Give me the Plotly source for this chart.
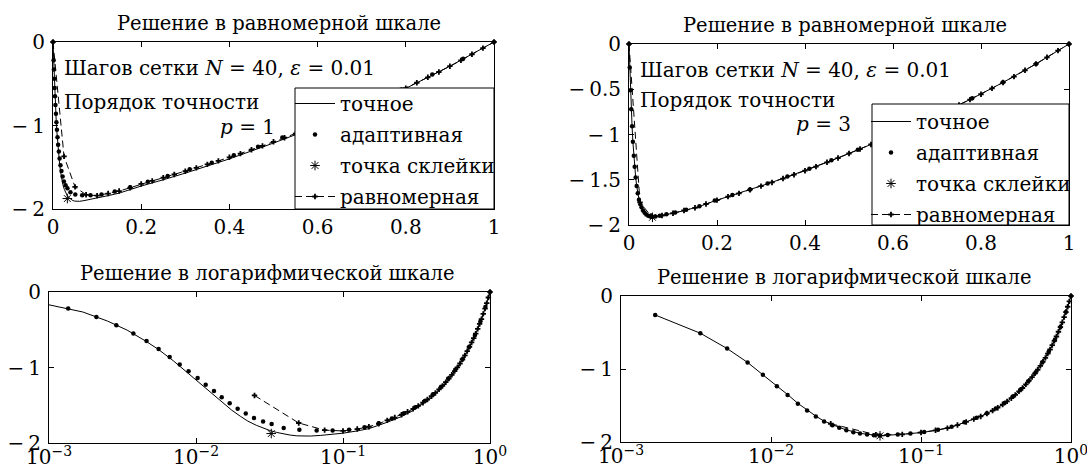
import plotly.graph_objects as go

W, H = 1087, 470
FONT = "DejaVu Serif"

# ---------------- data ----------------
# exact solution (left panels, eps = 0.01)
exact_left_x = [0, 0.001, 0.0017, 0.0025, 0.0034, 0.0045, 0.0055, 0.007, 0.0088, 0.011, 0.013,
                0.015, 0.0175, 0.02, 0.0225, 0.0257, 0.0285, 0.0318, 0.0354, 0.0392, 0.0437,
                0.0485, 0.0533, 0.06, 0.07, 0.085, 0.1, 0.125, 0.15, 0.2, 0.25, 0.3, 0.4, 0.5,
                0.6, 0.7, 0.8, 0.9, 1.0]
exact_left_y = [0, -0.17, -0.265, -0.385, -0.505, -0.645, -0.755, -0.91, -1.075, -1.235, -1.35,
                -1.46, -1.565, -1.645, -1.71, -1.765, -1.80, -1.835, -1.86, -1.88, -1.895,
                -1.905, -1.91, -1.908, -1.90, -1.885, -1.87, -1.84, -1.81, -1.725, -1.65, -1.57,
                -1.40, -1.21, -1.01, -0.79, -0.555, -0.29, 0]

# adaptive mesh, p = 1
adapt1_x = [0, 0.00135, 0.0021, 0.00287, 0.00375, 0.00461, 0.00557, 0.00662, 0.00775, 0.0089,
            0.01026, 0.01164, 0.01325, 0.01496, 0.01695, 0.0192, 0.0218, 0.0248, 0.0286, 0.0327,
            0.0395, 0.0505, 0.0662, 0.085, 0.11, 0.14, 0.175, 0.215, 0.26, 0.31, 0.36, 0.41,
            0.465, 0.52, 0.58, 0.65, 0.72, 0.79, 0.86, 0.93, 1.0]
adapt1_y = [0, -0.22, -0.33, -0.44, -0.55, -0.65, -0.755, -0.86, -0.96, -1.05,
            -1.14, -1.23, -1.31, -1.395, -1.475, -1.545, -1.61, -1.67, -1.715, -1.75,
            -1.80, -1.825, -1.835, -1.835, -1.825, -1.79, -1.74, -1.675, -1.605, -1.525, -1.445,
            -1.355, -1.255, -1.145, -1.03, -0.89, -0.73, -0.57, -0.39, -0.2, 0]
splice1_x = [0.0325]
splice1_y = [-1.875]

# uniform mesh (N = 40)
uniform_x = [0, 0.025, 0.05, 0.075, 0.1, 0.125, 0.15, 0.175, 0.2, 0.225, 0.25, 0.275, 0.3, 0.325,
             0.35, 0.375, 0.4, 0.425, 0.45, 0.475, 0.5, 0.525, 0.55, 0.575, 0.6, 0.625, 0.65,
             0.675, 0.7, 0.725, 0.75, 0.775, 0.8, 0.825, 0.85, 0.875, 0.9, 0.925, 0.95, 0.975, 1.0]
uniform1_y = [0, -1.37, -1.735, -1.83, -1.84, -1.815, -1.785, -1.745, -1.70, -1.663, -1.626,
              -1.587, -1.548, -1.508, -1.466, -1.424, -1.381, -1.337, -1.29, -1.244, -1.195,
              -1.146, -1.097, -1.048, -0.999, -0.947, -0.891, -0.839, -0.783, -0.727, -0.668,
              -0.611, -0.552, -0.488, -0.423, -0.359, -0.29, -0.22, -0.147, -0.073, 0]

# adaptive mesh, p = 3 (exact solution in the right panels is drawn on this mesh)
adapt3_x = [0, 0.00169, 0.00338, 0.0051, 0.00698, 0.00883, 0.01094, 0.0129, 0.0151, 0.0174,
            0.0199, 0.0226, 0.0257, 0.0285, 0.0318, 0.0354, 0.0392, 0.0437, 0.0485, 0.0533,
            0.06, 0.07, 0.085, 0.105, 0.13, 0.16, 0.195, 0.235, 0.275, 0.315, 0.36, 0.41, 0.46,
            0.52, 0.58, 0.645, 0.71, 0.78, 0.85, 0.925, 1.0]
exact3_y = [0, -0.26, -0.51, -0.72, -0.91, -1.08, -1.23, -1.35, -1.47, -1.565,
            -1.645, -1.715, -1.765, -1.80, -1.835, -1.86, -1.88, -1.895, -1.905, -1.91,
            -1.908, -1.90, -1.885, -1.865, -1.835, -1.795, -1.733, -1.672, -1.61, -1.545, -1.468,
            -1.381, -1.287, -1.17, -1.05, -0.91, -0.767, -0.602, -0.425, -0.22, 0]
adapt3_y = [0, -0.26, -0.51, -0.72, -0.91, -1.08, -1.235, -1.355, -1.475, -1.57,
            -1.65, -1.72, -1.77, -1.805, -1.84, -1.865, -1.885, -1.898, -1.906, -1.91,
            -1.905, -1.897, -1.882, -1.862, -1.832, -1.792, -1.73, -1.669, -1.607, -1.542, -1.465,
            -1.378, -1.284, -1.168, -1.048, -0.908, -0.765, -0.60, -0.424, -0.22, 0]
splice3_x = [0.0533]
splice3_y = [-1.915]
uniform3_y = [0, -1.75, -1.90, -1.895, -1.87, -1.84, -1.81, -1.768, -1.725, -1.687, -1.65,
              -1.61, -1.57, -1.53, -1.487, -1.444, -1.40, -1.355, -1.307, -1.26, -1.21,
              -1.16, -1.11, -1.06, -1.01, -0.957, -0.90, -0.847, -0.79, -0.733, -0.673,
              -0.615, -0.555, -0.49, -0.425, -0.36, -0.29, -0.22, -0.147, -0.073, 0]

names = ["точное", "адаптивная", "точка склейки", "равномерная"]
title_lin = "Решение в равномерной шкале"
title_log = "Решение в логарифмической шкале"
y_ticks_coarse = [0, -1, -2]
y_ticks_fine = [0, -0.5, -1, -1.5, -2]
x_ticks_lin = [0, 0.2, 0.4, 0.6, 0.8, 1]
x_ticks_log = [0.001, 0.01, 0.1, 1]
x_ticktext_log = ["10<sup>−3</sup>", "10<sup>−2</sup>", "10<sup>−1</sup>", "10<sup>0</sup>"]


def fmt(v):
    s = ("%g" % abs(v))
    return s if v >= 0 else "−\u2009" + s


def pos(v):
    return [(a, b) for a, b in zip(v[0], v[1]) if a > 0]


fig = go.Figure()

# pixel boxes of the four axes: (left, right, top, bottom)
boxes = {
    1: (53, 494, 42, 209),
    2: (629, 1069, 44, 225),
    3: (49, 490, 292, 443),
    4: (621, 1071, 296, 442),
}
# legend frames (left, right, top, bottom) and (left, first-row centre) of entries
legend_boxes = {1: (295, 494, 88, 209), 2: (872, 1069, 104, 225)}
legend_rows = {1: (290, 104), 2: (866, 122)}
title_dx = {1: 5, 2: -4, 3: -3, 4: -2}

panels = [
    (1, exact_left_x, exact_left_y, adapt1_x, adapt1_y, (splice1_x, splice1_y), uniform1_y, False, "legend"),
    (2, adapt3_x, exact3_y, adapt3_x, adapt3_y, (splice3_x, splice3_y), uniform3_y, False, "legend2"),
    (3, exact_left_x, exact_left_y, adapt1_x, adapt1_y, (splice1_x, splice1_y), uniform1_y, True, None),
    (4, adapt3_x, exact3_y, adapt3_x, adapt3_y, (splice3_x, splice3_y), uniform3_y, True, None),
]

for idx, ex, ey, ax_, ay_, spl, uy, islog, leg in panels:
    xa = "x" if idx == 1 else "x%d" % idx
    ya = "y" if idx == 1 else "y%d" % idx
    if islog:
        ex, ey = zip(*pos((ex, ey)))
        ax_, ay_ = zip(*pos((ax_, ay_)))
        ux, uy = zip(*pos((uniform_x, uy)))
    else:
        ux = uniform_x
    show = leg is not None
    common = dict(xaxis=xa, yaxis=ya, showlegend=show)
    if show:
        common["legend"] = leg
    fig.add_trace(go.Scatter(x=list(ex), y=list(ey), mode="lines", name=names[0],
                             line=dict(color="black", width=1), legendgroup=f"a{idx}", **common))
    fig.add_trace(go.Scatter(x=list(ax_), y=list(ay_), mode="markers", name=names[1],
                             marker=dict(symbol="circle", size=4.5, color="black"),
                             cliponaxis=False, legendgroup=f"b{idx}", **common))
    fig.add_trace(go.Scatter(x=spl[0], y=spl[1], mode="markers", name=names[2],
                             marker=dict(symbol="asterisk-open", size=8, color="black",
                                         line=dict(color="black", width=1)),
                             cliponaxis=False, legendgroup=f"c{idx}", **common))
    fig.add_trace(go.Scatter(x=list(ux), y=list(uy), mode="lines+markers", name=names[3],
                             line=dict(color="black", width=1, dash="7px,4px"),
                             marker=dict(symbol="cross", size=4.5, color="black"),
                             cliponaxis=False, legendgroup=f"d{idx}", **common))

FS = 20
layout = dict(
    width=W, height=H, margin=dict(l=0, r=0, t=0, b=0),
    paper_bgcolor="white", plot_bgcolor="white",
    font=dict(family=FONT, size=FS, color="black"),
)

axis_common = dict(showgrid=False, zeroline=False, showline=True, linecolor="black",
                   linewidth=1, mirror="ticks", ticks="inside", ticklen=5, automargin=False,
                   ticklabeloverflow="allow",
                   tickcolor="black", tickfont=dict(family=FONT, size=FS, color="black"))

for idx, (l, r, t, b) in boxes.items():
    xd = [l / W, r / W]
    yd = [1 - b / H, 1 - t / H]
    xk = "xaxis" if idx == 1 else "xaxis%d" % idx
    yk = "yaxis" if idx == 1 else "yaxis%d" % idx
    ya = "y" if idx == 1 else "y%d" % idx
    xa = "x" if idx == 1 else "x%d" % idx
    yt = y_ticks_fine if idx == 2 else y_ticks_coarse
    if idx in (1, 2):
        xcfg = dict(domain=xd, range=[0, 1], tickvals=x_ticks_lin,
                    ticktext=[fmt(v) for v in x_ticks_lin], anchor=ya)
    else:
        xcfg = dict(domain=xd, type="log", range=[-3, 0], tickvals=x_ticks_log,
                    ticktext=x_ticktext_log, anchor=ya, ticklabelstandoff=-4)
    layout[xk] = dict(**axis_common, **xcfg)
    layout[yk] = dict(**axis_common, domain=yd, range=[-2, 0], tickvals=yt,
                      ticktext=[fmt(v) for v in yt], anchor=xa, ticklabelstandoff=3)

legend_common = dict(borderwidth=0, bgcolor="rgba(0,0,0,0)",
                     font=dict(family=FONT, size=FS, color="black"),
                     xanchor="left", yanchor="top", traceorder="grouped",
                     tracegroupgap=2, itemwidth=40)
for idx, key in ((1, "legend"), (2, "legend2")):
    lx, ry = legend_rows[idx]
    layout[key] = dict(**legend_common, x=lx / W, y=1 - (ry - 20) / H)

fig.update_layout(**layout)

# legend frames (white box with black border, drawn over the curves)
for idx, (l, r, t, b) in legend_boxes.items():
    fig.add_shape(type="rect", xref="paper", yref="paper", x0=l / W, x1=r / W,
                  y0=1 - b / H, y1=1 - t / H, fillcolor="white",
                  line=dict(color="black", width=1), layer="above")

# titles
ann = []
for idx, txt in ((1, title_lin), (2, title_lin), (3, title_log), (4, title_log)):
    l, r, t, b = boxes[idx]
    ann.append(dict(text=txt, x=((l + r) / 2 + title_dx[idx]) / W, y=1 - (t - 5) / H,
                    xref="paper", yref="paper", xanchor="center", yanchor="bottom",
                    showarrow=False, font=dict(family=FONT, size=19.5)))

info_line1 = "Шагов сетки <i>N</i> = 40, <i>ε</i> = 0.01"
info_line2 = "Порядок точности"
orders = {1: "<i>p</i> = 1", 2: "<i>p</i> = 3"}
for idx, (y1, y2, y3) in ((1, (68, 102, 127)), (2, (70, 100, 124))):
    l, r, t, b = boxes[idx]
    ann.append(dict(text=info_line1, x=(l + 9) / W, y=1 - y1 / H, xref="paper", yref="paper",
                    xanchor="left", yanchor="middle", showarrow=False, font=dict(size=FS)))
    ann.append(dict(text=info_line2, x=(l + 9) / W, y=1 - y2 / H, xref="paper", yref="paper",
                    xanchor="left", yanchor="middle", showarrow=False, font=dict(size=FS)))
    ann.append(dict(text=orders[idx], x=(l + 224) / W, y=1 - y3 / H, xref="paper", yref="paper",
                    xanchor="right", yanchor="middle", showarrow=False, font=dict(size=FS)))

fig.update_layout(annotations=ann)
fig.write_html("out.html")
